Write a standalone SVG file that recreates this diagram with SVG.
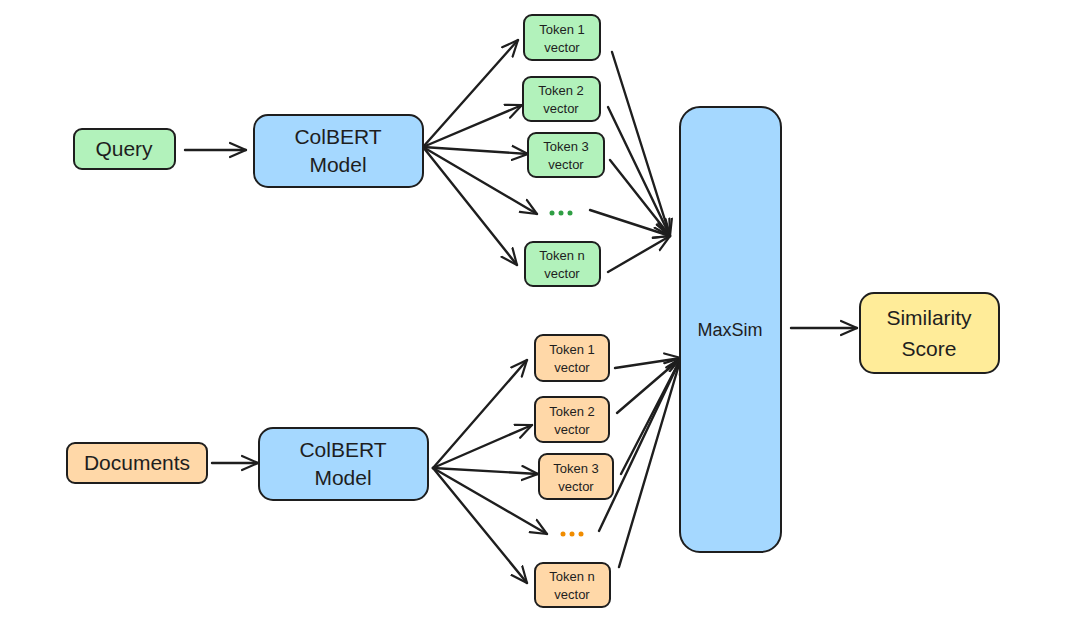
<svg xmlns="http://www.w3.org/2000/svg" width="1070" height="636" viewBox="0 0 1070 636">
<defs>
<marker id="ah" viewBox="0 0 18 18" refX="17" refY="9" markerWidth="18" markerHeight="18" markerUnits="userSpaceOnUse" orient="auto">
<path d="M1,2 L17,9 L1,16" fill="none" stroke="#1e1e1e" stroke-width="2.2" stroke-linecap="round" stroke-linejoin="round"/>
</marker>
<style>
.box{stroke:#1e1e1e;stroke-width:2}
.g{fill:#b2f2bb}.b{fill:#a5d8ff}.o{fill:#ffd8a8}.y{fill:#ffec99}
text{font-family:"Liberation Sans",Arial,sans-serif;fill:#1e1e1e;text-anchor:middle}
.t{font-size:13px}
.m{font-size:21px}
.c line{stroke:#1e1e1e;stroke-width:2.4;stroke-linecap:round;marker-end:url(#ah)}
</style>
</defs>
<rect width="1070" height="636" fill="#ffffff"/>

<g class="c" id="connectors">
<line x1="185" y1="150" x2="246" y2="150"/>
<line x1="423" y1="147" x2="518" y2="40"/>
<line x1="423" y1="147" x2="522" y2="105"/>
<line x1="423" y1="147" x2="528" y2="154"/>
<line x1="423" y1="147" x2="537" y2="214"/>
<line x1="423" y1="147" x2="517" y2="265"/>
<line x1="612" y1="52" x2="670" y2="236"/>
<line x1="608" y1="107" x2="670" y2="236"/>
<line x1="610" y1="160" x2="670" y2="236"/>
<line x1="590" y1="210" x2="670" y2="236"/>
<line x1="608" y1="272" x2="670" y2="236"/>
<line x1="212" y1="463" x2="258" y2="463"/>
<line x1="433" y1="468" x2="527" y2="360"/>
<line x1="433" y1="468" x2="532" y2="425"/>
<line x1="433" y1="468" x2="538" y2="474"/>
<line x1="433" y1="468" x2="547" y2="534"/>
<line x1="433" y1="468" x2="527" y2="583"/>
<line x1="615" y1="368" x2="681" y2="358"/>
<line x1="617" y1="413" x2="681" y2="358"/>
<line x1="621" y1="474" x2="681" y2="358"/>
<line x1="599" y1="531" x2="681" y2="358"/>
<line x1="619" y1="567" x2="681" y2="358"/>
<line x1="791" y1="328" x2="857" y2="328"/>
</g>

<g id="query">
<rect class="box g" x="74" y="129" width="101" height="40" rx="8"/>
<text class="m" x="124" y="156">Query</text>
</g>
<g id="colbert-top">
<rect class="box b" x="254" y="115" width="169" height="72" rx="14"/>
<text class="m" x="338" y="144">ColBERT</text>
<text class="m" x="338" y="172">Model</text>
</g>

<g id="qt1">
<rect class="box g" x="524" y="15" width="76" height="45" rx="8"/>
<text class="t" x="562" y="34">Token 1</text>
<text class="t" x="562" y="52">vector</text>
</g>
<g id="qt2">
<rect class="box g" x="523" y="77" width="77" height="44" rx="8"/>
<text class="t" x="561" y="95">Token 2</text>
<text class="t" x="561" y="113">vector</text>
</g>
<g id="qt3">
<rect class="box g" x="528" y="133" width="76" height="44" rx="8"/>
<text class="t" x="566" y="151">Token 3</text>
<text class="t" x="566" y="169">vector</text>
</g>
<g id="qdots" fill="#2f9e44">
<circle cx="552" cy="213" r="2.5"/><circle cx="561" cy="213" r="2.5"/><circle cx="570" cy="213" r="2.5"/>
</g>
<g id="qtn">
<rect class="box g" x="525" y="242" width="75" height="44" rx="8"/>
<text class="t" x="562" y="260">Token n</text>
<text class="t" x="562" y="278">vector</text>
</g>

<g id="maxsim">
<rect class="box b" x="680" y="107" width="101" height="445" rx="20"/>
<text x="730" y="336" style="font-size:18px">MaxSim</text>
</g>
<g id="similarity">
<rect class="box y" x="860" y="293" width="139" height="80" rx="14"/>
<text class="m" x="929" y="325">Similarity</text>
<text class="m" x="929" y="356">Score</text>
</g>

<g id="documents">
<rect class="box o" x="67" y="443" width="140" height="40" rx="8"/>
<text class="m" x="137" y="470">Documents</text>
</g>
<g id="colbert-bottom">
<rect class="box b" x="259" y="428" width="169" height="72" rx="14"/>
<text class="m" x="343" y="457">ColBERT</text>
<text class="m" x="343" y="485">Model</text>
</g>

<g id="dt1">
<rect class="box o" x="535" y="335" width="74" height="46" rx="8"/>
<text class="t" x="572" y="354">Token 1</text>
<text class="t" x="572" y="372">vector</text>
</g>
<g id="dt2">
<rect class="box o" x="535" y="397" width="74" height="45" rx="8"/>
<text class="t" x="572" y="416">Token 2</text>
<text class="t" x="572" y="434">vector</text>
</g>
<g id="dt3">
<rect class="box o" x="539" y="454" width="74" height="45" rx="8"/>
<text class="t" x="576" y="473">Token 3</text>
<text class="t" x="576" y="491">vector</text>
</g>
<g id="ddots" fill="#f08c00">
<circle cx="563" cy="534" r="2.5"/><circle cx="572" cy="534" r="2.5"/><circle cx="581" cy="534" r="2.5"/>
</g>
<g id="dtn">
<rect class="box o" x="535" y="563" width="75" height="44" rx="8"/>
<text class="t" x="572" y="581">Token n</text>
<text class="t" x="572" y="599">vector</text>
</g>
</svg>
